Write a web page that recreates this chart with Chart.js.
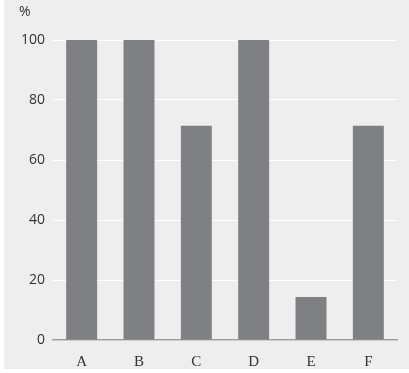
<!DOCTYPE html>
<html>
<head>
<meta charset="utf-8">
<script src="https://cdn.jsdelivr.net/npm/chart.js@4"></script>
<style>
  html, body { margin: 0; padding: 0; background: #ffffff; }
  #panel { position: absolute; left: 4px; top: 0; width: 405px; height: 369px; background: #eeeeee; }
</style>
</head>
<body>
<div id="panel"><canvas id="grafico" width="405" height="369"></canvas></div>
<script>
const categories = ['A', 'B', 'C', 'D', 'E', 'F'];
const valores = [100, 100, 71.4, 100, 14.3, 71.4];
const yTicks = [0, 20, 40, 60, 80, 100];
const unidade = '%';

// texto da unidade no canto superior esquerdo
const unidadePlugin = {
    id: 'unidade',
    afterDraw(chart) {
        const ctx = chart.ctx;
        ctx.save();
        ctx.font = '14px "Open Sans"';
        ctx.fillStyle = '#333333';
        ctx.textAlign = 'left';
        ctx.textBaseline = 'middle';
        ctx.fillText(unidade, 15, 12);
        ctx.restore();
    }
};

const ctx = document.getElementById('grafico').getContext('2d');
new Chart(ctx, {
    type: 'bar',
    data: {
        labels: categories,
        datasets: [{
            data: valores,
            backgroundColor: '#7f8084',
            borderWidth: 0,
            categoryPercentage: 1,
            barPercentage: 0.54
        }]
    },
    options: {
        responsive: false,
        animation: false,
        layout: { padding: { top: 40, right: 12, left: 0, bottom: 0 } },
        plugins: {
            legend: { display: false },
            tooltip: { enabled: false }
        },
        scales: {
            x: {
                grid: { display: false, drawTicks: false },
                border: { display: true, color: '#9c9c9c', width: 1.5 },
                ticks: {
                    padding: 13,
                    color: '#333333',
                    font: { family: '"Liberation Serif", serif', size: 15 }
                },
                afterFit: s => { s.height = 29; }
            },
            y: {
                min: 0,
                max: 100,
                afterBuildTicks: s => { s.ticks = yTicks.map(v => ({ value: v })); },
                grid: { color: '#ffffff', lineWidth: 1, drawTicks: false },
                border: { display: false },
                ticks: {
                    padding: 8,
                    color: '#333333',
                    font: { family: '"Open Sans"', size: 14 }
                },
                afterFit: s => { s.width = 49; }
            }
        }
    },
    plugins: [unidadePlugin]
});
</script>
</body>
</html>
